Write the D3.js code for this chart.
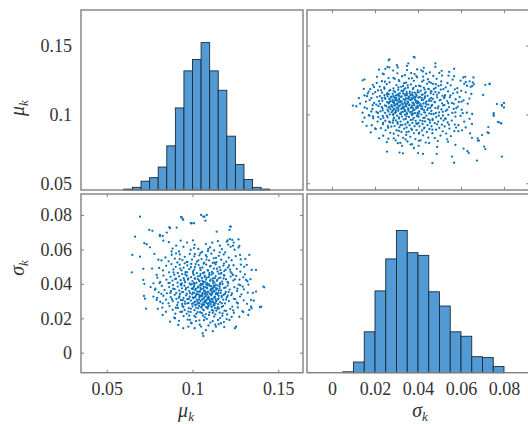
<!DOCTYPE html>
<html>
<head>
<meta charset="utf-8">
<script src="https://cdn.jsdelivr.net/npm/d3@7"></script>
<style>
    body { margin: 0; background: #fff; }
    svg text { font-family: "Liberation Serif", "Times New Roman", "DejaVu Serif", serif; fill: #333; }
</style>
</head>
<body>
<svg id="chart" width="528" height="424"></svg>
<script>

// histogram bins
const muBinEdges = [0.060, 0.065, 0.070, 0.075, 0.080, 0.085, 0.090, 0.095, 0.100,
    0.105, 0.110, 0.115, 0.120, 0.125, 0.130, 0.135, 0.140, 0.145];
const muCounts = [1, 3, 10, 14, 26, 50, 93, 135, 148, 167, 135, 113, 61, 29, 12, 3, 1];

const sigmaBinEdges = [0.005, 0.010, 0.015, 0.020, 0.025, 0.030, 0.035, 0.040,
    0.045, 0.050, 0.055, 0.060, 0.065, 0.070, 0.075, 0.080];
const sigmaCounts = [1, 12, 46, 92, 128, 160, 135, 132, 91, 75, 46, 41, 18, 17, 7];

const muTicks = [0.05, 0.1, 0.15];
const sigmaTicks = [0, 0.02, 0.04, 0.06, 0.08];

// (mu_k, sigma_k) samples, units of 1e-4
const samples = [
    [694,790],[933,787],[946,772],[990,752],[1009,752],[748,713],[766,708],[865,729],[665,674],[810,684],
    [826,678],[850,698],[719,636],[733,630],[649,568],[694,558],[646,467],[713,487],[713,423],[719,400],
    [717,330],[723,314],[729,256],[772,403],[781,365],[772,326],[791,306],[826,219],[869,180],[898,200],
    [917,161],[946,142],[976,151],[991,174],[1063,97],[1059,113],[1050,800],[1069,790],[1075,767],[1224,733],
    [1215,713],[1331,568],[1370,481],[1418,380],[1400,267],[1341,267],[1331,248],[1370,355],[1341,306],[1273,209],
    [1254,151],[1215,190],[1137,151],[1166,171],[1312,423],[1293,384],
    [1205,652],[1218,660],[1232,655],[1240,640],[1236,622],[1222,615],[1208,628],[1200,645],
    [1345,481],[1413,384],[1393,264],[1345,258],[1325,219],[1247,142],[1277,568],[1316,510],[1273,620],[1219,733],
    [1141,703],[1083,800],[1063,790],[995,752],[937,787],[943,776],[869,723],[908,727],[810,678],[830,651],
    [862,642],[884,605],[905,622],[921,588],[947,615],[968,640],[989,598],[1012,627],[1034,603],[1056,585],
    [1078,631],[1102,612],[1126,594],[1148,648],[1171,601],[1190,583],[1245,598],[1268,611],[878,588],[1003,652],
    [1115,639],[1160,622],[931,651],[1090,590],
    [842,553],[861,531],[879,569],[897,546],[912,524],[926,571],[941,538],[955,557],[970,527],[984,574],
    [997,541],[1011,560],[1025,529],[1040,566],[1053,544],[1068,523],[1083,558],[1097,536],[1110,575],[1124,548],
    [1139,526],[1153,563],[1167,540],[1182,571],[1196,529],[1211,552],[1228,537],[1252,561],[1281,542],[904,577],
    [1046,578],[1118,522],[819,536],
    [806,492],[828,478],[846,505],[863,467],[877,515],[889,484],[902,499],[914,463],[925,511],[936,478],
    [948,494],[959,468],[970,507],[981,485],[992,516],[1003,473],[1014,498],[1025,462],[1036,509],[1047,481],
    [1058,495],[1069,466],[1080,512],[1091,477],[1102,501],[1113,469],[1124,489],[1135,514],[1146,472],[1157,497],
    [1168,463],[1180,506],[1193,482],[1207,495],[1222,470],[1239,508],[1258,487],[1279,471],[1301,499],[955,519],
    [1065,517],[1185,474],[1010,483],[1120,461],
    [795,436],[812,412],[831,448],[848,424],[860,404],[872,441],[883,419],[894,453],[904,430],[913,407],
    [922,444],[931,421],[940,456],[949,433],[957,410],[966,447],[974,425],[983,403],[991,439],[999,416],
    [1007,452],[1015,429],[1023,406],[1031,443],[1039,420],[1047,457],[1055,434],[1063,411],[1071,448],[1079,425],
    [1087,402],[1095,439],[1103,417],[1111,454],[1119,431],[1127,408],[1135,445],[1144,422],[1153,459],[1162,436],
    [1172,413],[1183,450],[1195,427],[1208,405],[1222,442],[1238,419],[1255,446],[1274,424],[1296,438],[1320,415],
    [938,402],[1050,400],[1160,404],[1003,462],[1098,462],[1229,461],
    [784,372],[803,351],[821,388],[837,364],[851,345],[864,381],[875,357],[886,393],[896,369],[905,347],
    [914,384],[922,361],[930,397],[938,374],[945,352],[953,389],[960,366],[967,343],[974,380],[981,358],
    [988,395],[995,372],[1002,349],[1009,386],[1016,363],[1023,341],[1030,378],[1037,355],[1044,392],[1051,369],
    [1058,346],[1065,383],[1072,360],[1079,397],[1086,374],[1093,352],[1100,389],[1107,366],[1114,343],[1121,380],
    [1128,357],[1135,394],[1142,371],[1150,348],[1158,385],[1166,362],[1175,399],[1184,376],[1194,353],[1205,390],
    [1217,367],[1230,344],[1244,381],[1260,358],[1278,392],[1299,368],[1322,349],[1012,398],[1076,342],[1139,348],
    [1189,341],[927,341],[1046,377],[1110,372],[1001,370],[1061,398],[1125,388],[1153,361],
    [793,318],[812,296],[830,331],[846,308],[860,287],[873,323],[885,300],[896,336],[906,313],[915,291],
    [924,327],[932,305],[940,283],[948,319],[956,297],[963,333],[970,311],[977,289],[984,325],[991,303],
    [998,339],[1005,316],[1012,294],[1019,330],[1026,308],[1033,286],[1040,322],[1047,300],[1054,336],[1061,313],
    [1068,291],[1075,327],[1082,305],[1089,283],[1096,319],[1103,297],[1110,333],[1117,311],[1124,289],[1131,325],
    [1138,303],[1145,339],[1153,316],[1161,294],[1170,330],[1179,308],[1189,286],[1200,322],[1212,300],[1226,335],
    [1241,313],[1258,292],[1277,326],[1298,304],[1024,281],[1087,338],[1150,282],[1066,318],[1114,296],[997,284],
    [1181,336],[1043,331],[1106,282],[1134,313],[1074,299],
    [824,262],[845,238],[866,271],[884,249],[900,227],[915,260],[929,237],[942,270],[954,248],[966,226],
    [978,259],[989,236],[1000,269],[1011,247],[1022,225],[1033,258],[1044,235],[1055,268],[1066,246],[1077,224],
    [1088,257],[1099,234],[1110,267],[1121,245],[1133,223],[1145,256],[1158,233],[1171,266],[1186,244],[1202,222],
    [1220,255],[1241,232],[1264,263],[1291,241],[1060,277],[1128,275],[1015,277],[1175,228],
    [893,204],[921,185],[948,212],[972,192],[995,171],[1018,207],[1040,188],[1061,216],[1083,196],[1104,175],
    [1126,210],[1149,190],[1174,214],[1199,195],[1228,208],[1042,163],[1093,158],[1152,166],
    [1012,142],[1078,131],[1118,125],[1185,148],
    [1043,354],[1087,317],[1121,402],[1068,277],[1102,341],[1139,366],[1015,322],[1058,419],[1094,288],[1131,259],
    [1076,381],[1029,297],[1117,348],[1152,331],[1008,405],[1049,263],[1083,436],[1111,312],[1066,359],[1097,397],
    [1035,338],[1124,277],[1146,391],[1072,304],[1019,371],[1057,330],[1106,425],[1089,354],[1138,298],[1051,392],
    [1003,286],[1118,371],[1079,264],[1041,415],[1164,347],[1093,325],[1027,355],[1130,433],[1062,291],[1109,386],
    [985,346],[1148,309],[1074,412],[1038,272],[1101,303],[1125,359],[1013,433],[1084,377],[1055,308],[1142,418],
    [996,398],[1033,384],[1068,343],[1115,268],[1157,374],[1081,289],[1047,327],[1098,451],[1021,262],[1136,340],
    [978,312],[1063,372],[1107,296],[1044,446],[1128,384],[1090,267],[1009,348],[1171,323],[1053,281],[1119,417],
    [962,375],[1039,309],[1085,403],[1134,286],[1016,297],[1071,439],[1112,356],[1048,367],[1095,273],[1160,398],
    [1002,321],[1059,252],[1126,321],[1076,329],[1031,428],[1147,264],[1088,391],[1024,339],[1104,364],[1065,409],
    [971,287],[1113,248],[1040,288],[1152,432],[1078,350],[1005,377],[1120,297],[1061,463],[1094,312],[1137,375],
    [952,421],[968,468],[934,392],[921,319],[947,266],[976,239],[1010,214],[1054,231],[1096,219],[1139,244],
    [1178,271],[1196,309],[1211,352],[1204,412],[1186,448],[1163,481],[1127,523],[1081,541],[1034,536],[991,497],
    [958,455],[939,352],[957,284],[1029,236],[1118,232],[1171,287],[1192,379],[1181,431],[1142,488],[1088,479],
    [1019,515],[975,431],[943,305],[990,255],[1071,206],[1154,257],[1206,331],[1166,459],[1106,505],[1044,493],
    [887,372],[899,428],[911,276],[880,311],[928,489],[967,528],[1014,574],[1077,567],[1137,551],[1183,518],
    [1219,483],[1247,426],[1262,372],[1249,311],[1232,268],[1196,243],[1161,201],[1118,183],[1067,189],[1021,183],
    [981,215],[939,238],[903,261],[871,347],[867,406],[889,467],[925,544],[1009,608],[1092,603],[1159,583],
    [1213,507],[1236,452],[1269,396],[1285,339],[1265,286],[1237,246],[1183,178],[1132,163],[1050,152],[985,191],
    [752,612],[778,574],[801,540],[764,489],[791,452],[756,381],[808,404],[826,287],[818,342],[798,255],
    [1305,455],[1326,396],[1352,348],[1338,427],[1318,284],[1296,236],[1357,302],[1282,512],[1308,545],[1268,658]
];

const svg = d3.select("#chart");

const frameColor = "#808080";
const barFill = "#519ad3";
const barEdge = "#1c2a38";
const dotColor = "#0a72bb";

// panel boxes
const panels = {
    tl: { x0: 81, x1: 303, y0: 10, y1: 190 },
    tr: { x0: 307, x1: 529, y0: 10, y1: 190 },
    bl: { x0: 81, x1: 303, y0: 194, y1: 372.7 },
    br: { x0: 307, x1: 529, y0: 194, y1: 372.7 }
};

// scales
const muX = d3.scaleLinear().domain([0.035, 0.1644]).range([panels.bl.x0, panels.bl.x1]);
const sigmaX = d3.scaleLinear().domain([-0.01163, 0.09163]).range([panels.br.x0, panels.br.x1]);
const muY = d3.scaleLinear().domain([0.0451, 0.1758]).range([panels.tl.y1, panels.tl.y0]);
const sigmaY = d3.scaleLinear().domain([-0.01162, 0.0922]).range([panels.bl.y1, panels.bl.y0]);
const muCountY = d3.scaleLinear().domain([0, 204]).range([panels.tl.y1, panels.tl.y0]);
const sigmaCountY = d3.scaleLinear().domain([0, 201]).range([panels.br.y1, panels.br.y0]);

const fmt = d3.format("~g");

// histogram bars
function drawHist(edges, counts, xScale, yScale) {
    const bins = counts.map((c, i) => ({ x0: edges[i], x1: edges[i + 1], n: c }));
    svg.append("g")
        .selectAll("rect")
        .data(bins)
        .enter().append("rect")
        .attr("x", d => xScale(d.x0))
        .attr("width", d => xScale(d.x1) - xScale(d.x0))
        .attr("y", d => yScale(d.n))
        .attr("height", d => yScale(0) - yScale(d.n))
        .attr("fill", barFill)
        .attr("stroke", barEdge)
        .attr("stroke-width", 0.9);
}

drawHist(muBinEdges, muCounts, muX, muCountY);
drawHist(sigmaBinEdges, sigmaCounts, sigmaX, sigmaCountY);

// scatter panels (same samples, transposed)
svg.append("g")
    .selectAll("circle")
    .data(samples)
    .enter().append("circle")
    .attr("cx", d => sigmaX(d[1] / 1e4))
    .attr("cy", d => muY(d[0] / 1e4))
    .attr("r", 1.15)
    .attr("fill", dotColor);

svg.append("g")
    .selectAll("circle")
    .data(samples)
    .enter().append("circle")
    .attr("cx", d => muX(d[0] / 1e4))
    .attr("cy", d => sigmaY(d[1] / 1e4))
    .attr("r", 1.15)
    .attr("fill", dotColor);

// inward tick marks on the scatter panels
function ticks(axis, values, tx, ty) {
    const g = svg.append("g")
        .attr("transform", `translate(${tx},${ty})`)
        .call(axis.tickValues(values).tickSizeInner(-3).tickSizeOuter(0).tickFormat(""));
    g.select(".domain").remove();
    g.selectAll("line").attr("stroke", frameColor);
}

ticks(d3.axisTop(sigmaX), sigmaTicks, 0, panels.tr.y0);
ticks(d3.axisBottom(sigmaX), sigmaTicks, 0, panels.tr.y1);
ticks(d3.axisLeft(muY), muTicks, panels.tr.x0, 0);
ticks(d3.axisRight(muY), muTicks, panels.tr.x1, 0);

ticks(d3.axisTop(muX), muTicks, 0, panels.bl.y0);
ticks(d3.axisBottom(muX), muTicks, 0, panels.bl.y1);
ticks(d3.axisLeft(sigmaY), sigmaTicks, panels.bl.x0, 0);
ticks(d3.axisRight(sigmaY), sigmaTicks, panels.bl.x1, 0);

// frames
Object.values(panels).forEach(p => {
    svg.append("rect")
        .attr("x", p.x0)
        .attr("y", p.y0)
        .attr("width", p.x1 - p.x0)
        .attr("height", p.y1 - p.y0)
        .attr("fill", "none")
        .attr("stroke", frameColor)
        .attr("stroke-width", 1.4);
});

// tick labels
function labels(axis, values, tx, ty, pad) {
    const g = svg.append("g")
        .attr("transform", `translate(${tx},${ty})`)
        .call(axis.tickValues(values).tickSize(0).tickPadding(pad).tickFormat(fmt));
    g.select(".domain").remove();
    g.selectAll("text")
        .style("font-size", "18px")
        .style("font-family", '"Liberation Serif", "Times New Roman", serif')
        .attr("fill", "#333");
}

labels(d3.axisLeft(muY), muTicks, panels.tl.x0, 0, 9);
labels(d3.axisLeft(sigmaY), sigmaTicks, panels.bl.x0, 0, 9);
labels(d3.axisBottom(muX), muTicks, 0, panels.bl.y1, 10);
labels(d3.axisBottom(sigmaX), sigmaTicks, 0, panels.br.y1, 10);

// axis titles
function title(sym, x, y, rotate) {
    const t = svg.append("text")
        .attr("transform", `translate(${x},${y})` + (rotate ? " rotate(-90)" : ""))
        .attr("text-anchor", "middle")
        .style("font-style", "italic");
    t.append("tspan").style("font-size", "20px").text(sym);
    t.append("tspan").style("font-size", "13px").attr("dy", 4).text("k");
}

title("μ", 186, 417, false);
title("σ", 420, 417, false);
title("μ", 24, 108, true);
title("σ", 24, 268, true);

</script>
</body>
</html>
